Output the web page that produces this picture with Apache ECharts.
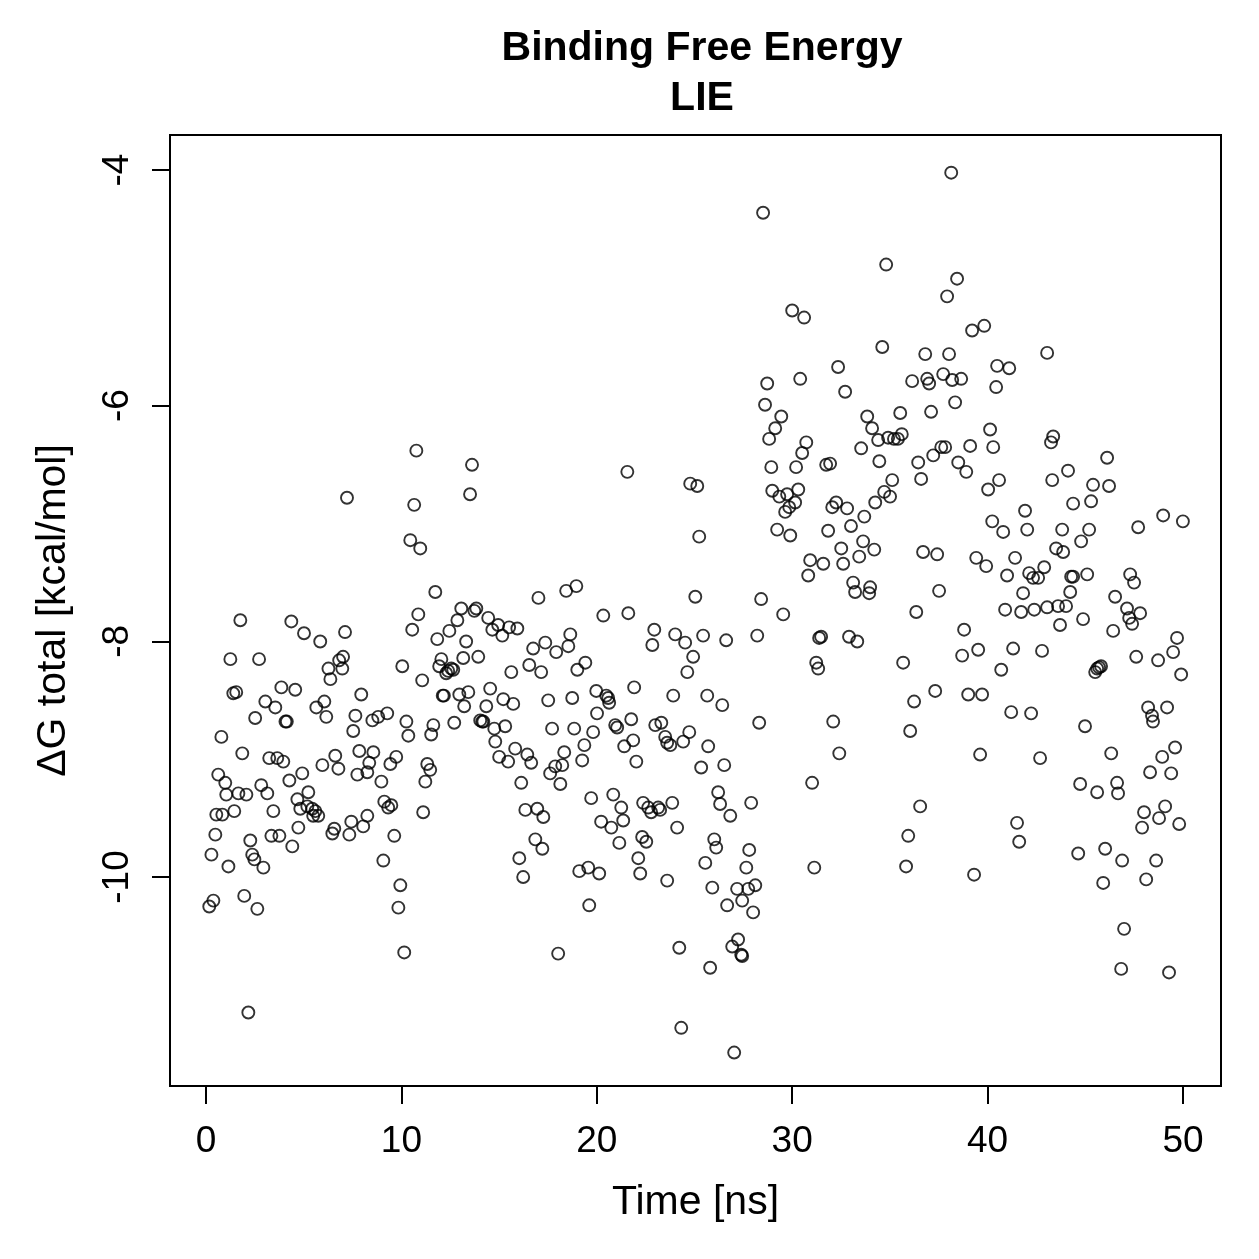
<!DOCTYPE html>
<html>
<head>
<meta charset="utf-8">
<script src="https://cdn.jsdelivr.net/npm/echarts@6/dist/echarts.min.js"></script>
<style>
  html, body { margin: 0; padding: 0; background: #fff; }
  #chart { width: 1259px; height: 1259px; }
</style>
</head>
<body>
<div id="chart"></div>
<script>
// LIE binding free energy, [time ns, dG kcal/mol]
const lie0to10 = [
  [0.15,-10.25],[0.26,-9.81],[0.36,-10.2],[0.46,-9.64],[0.51,-9.47],[0.61,-9.13],[0.77,-8.81],[0.82,-9.47],
  [0.97,-9.2],[1.02,-9.3],[1.13,-9.91],[1.23,-8.15],[1.38,-8.44],[1.43,-9.44],[1.53,-8.43],[1.64,-9.29],
  [1.74,-7.82],[1.84,-8.95],[1.94,-10.16],[2.05,-9.3],[2.15,-11.15],[2.25,-9.69],[2.35,-9.81],[2.46,-9.85],
  [2.5,-8.65],[2.61,-10.27],[2.7,-8.15],[2.81,-9.22],[2.92,-9.92],[3.02,-8.51],[3.12,-9.29],[3.22,-8.99],
  [3.33,-9.65],[3.43,-9.44],[3.53,-8.56],[3.63,-8.99],[3.74,-9.65],[3.84,-8.39],[3.94,-9.02],[4.05,-8.68],
  [4.12,-8.68],[4.25,-9.18],[4.35,-7.83],[4.4,-9.74],[4.55,-8.41],[4.66,-9.34],[4.71,-9.58],[4.81,-9.42],
  [4.91,-9.12],[5.0,-7.93],[5.17,-9.4],[5.22,-9.28],[5.42,-9.42],[5.47,-9.48],[5.58,-9.44],[5.63,-8.56],
  [5.73,-9.48],[5.83,-8.0],[5.94,-9.05],[6.04,-8.51],[6.14,-8.64],[6.25,-8.23],[6.35,-8.32],[6.45,-9.63],
  [6.55,-9.59],[6.6,-8.97],[6.76,-9.08],[6.8,-8.16],[6.96,-8.23],[7.0,-8.13],[7.1,-7.92],[7.2,-6.78],
  [7.32,-9.64],[7.42,-9.53],[7.52,-8.76],[7.63,-8.63],[7.73,-9.13],[7.83,-8.93],[7.93,-8.45],[8.03,-9.57],
  [8.24,-9.48],[8.24,-9.11],[8.34,-9.03],[8.5,-8.67],[8.55,-8.94],[8.8,-8.64],[8.96,-9.19],[9.06,-9.86],
  [9.11,-9.36],[9.26,-8.61],[9.31,-9.41],[9.42,-9.04],[9.47,-9.39],[9.62,-9.65],[9.72,-8.98],[9.83,-10.26],
  [9.93,-10.07]
];
const lie10to20 = [
  [10.03,-8.21],[10.13,-10.64],[10.24,-8.68],[10.34,-8.8],[10.44,-7.14],[10.54,-7.9],[10.64,-6.84],[10.75,-6.38],
  [10.85,-7.77],[10.95,-7.21],[11.05,-8.33],[11.1,-9.45],[11.21,-9.19],[11.31,-9.04],[11.46,-9.09],[11.51,-8.79],
  [11.62,-8.71],[11.72,-7.58],[11.82,-7.98],[11.92,-8.21],[12.03,-8.15],[12.1,-8.46],[12.16,-8.46],[12.28,-8.27],
  [12.38,-8.25],[12.44,-7.91],[12.54,-8.23],[12.64,-8.24],[12.69,-8.69],[12.85,-7.82],[12.95,-8.45],[13.05,-7.72],
  [13.15,-8.14],[13.2,-8.55],[13.3,-8.0],[13.41,-8.43],[13.5,-6.75],[13.6,-6.5],[13.72,-7.74],[13.82,-7.72],
  [13.92,-8.13],[14.02,-8.67],[14.12,-8.68],[14.18,-8.68],[14.33,-8.55],[14.43,-7.8],[14.53,-8.4],[14.64,-7.9],
  [14.74,-8.74],[14.79,-8.85],[14.94,-7.86],[14.99,-8.98],[15.15,-7.95],[15.2,-8.49],[15.3,-8.72],[15.45,-9.02],
  [15.5,-7.88],[15.61,-8.26],[15.71,-8.53],[15.81,-8.91],[15.92,-7.89],[16.02,-9.84],[16.12,-9.2],[16.22,-10.0],
  [16.33,-9.43],[16.43,-8.96],[16.53,-8.2],[16.63,-9.03],[16.73,-8.06],[16.84,-9.68],[16.94,-9.42],[17.0,-7.63],
  [17.14,-8.26],[17.2,-9.76],[17.25,-9.49],[17.35,-8.01],[17.5,-8.5],[17.6,-9.12],[17.7,-8.74],[17.86,-9.06],
  [17.91,-8.09],[18.01,-10.65],[18.12,-9.21],[18.22,-9.05],[18.32,-8.94],[18.42,-7.57],[18.53,-8.04],[18.63,-7.94],
  [18.73,-8.48],[18.83,-8.74],[18.94,-7.53],[18.99,-8.24],[19.09,-9.95],[19.24,-9.01],[19.35,-8.88],[19.4,-8.18],
  [19.55,-9.92],[19.6,-10.24],[19.7,-9.33],[19.8,-8.77],[19.96,-8.42]
];
const lie20to30 = [
  [20.0,-8.61],[20.11,-9.97],[20.21,-9.53],[20.32,-7.78],[20.47,-8.46],[20.57,-8.48],[20.62,-8.52],[20.73,-9.58],
  [20.83,-9.3],[20.93,-8.71],[21.03,-8.73],[21.14,-9.71],[21.24,-9.41],[21.34,-9.52],[21.39,-8.89],[21.55,-6.56],
  [21.6,-7.76],[21.75,-8.66],[21.85,-8.84],[21.9,-8.39],[22.01,-9.02],[22.11,-9.84],[22.21,-9.97],[22.31,-9.66],
  [22.36,-9.37],[22.52,-9.7],[22.62,-9.41],[22.77,-9.45],[22.83,-8.03],[22.93,-7.9],[22.98,-8.71],[23.13,-9.41],
  [23.23,-9.43],[23.29,-8.69],[23.49,-8.81],[23.59,-8.86],[23.59,-10.03],[23.75,-8.88],[23.85,-9.37],[23.9,-8.46],
  [24.0,-7.94],[24.1,-9.58],[24.21,-10.6],[24.31,-11.28],[24.41,-8.85],[24.51,-8.01],[24.62,-8.26],[24.72,-8.77],
  [24.77,-6.66],[24.92,-8.13],[25.03,-7.62],[25.13,-6.68],[25.23,-7.11],[25.33,-9.07],[25.43,-7.95],[25.54,-9.88],
  [25.64,-8.46],[25.69,-8.89],[25.79,-10.77],[25.9,-10.09],[26.0,-9.68],[26.1,-9.75],[26.2,-9.28],[26.3,-9.38],
  [26.41,-8.54],[26.51,-9.05],[26.61,-7.99],[26.66,-10.24],[26.82,-9.48],[26.92,-10.59],[27.02,-11.49],[27.17,-10.1],
  [27.22,-10.53],[27.38,-10.66],[27.43,-10.67],[27.43,-10.2],[27.64,-9.92],[27.74,-10.1],[27.79,-9.77],[27.89,-9.37],
  [27.99,-10.3],[28.1,-10.07],[28.2,-7.95],[28.3,-8.69],[28.4,-7.64],[28.5,-4.36],[28.6,-5.99],[28.71,-5.81],
  [28.81,-6.28],[28.92,-6.52],[28.97,-6.72],[29.12,-6.19],[29.22,-7.05],[29.33,-6.77],[29.43,-6.09],[29.53,-7.77],
  [29.63,-6.9],[29.73,-6.75],[29.84,-6.86],[29.89,-7.1],[29.99,-5.19]
];
const lie30to40 = [
  [30.14,-6.82],[30.19,-6.52],[30.3,-6.71],[30.4,-5.77],[30.5,-6.4],[30.6,-5.25],[30.71,-6.31],[30.81,-7.44],
  [30.91,-7.31],[31.01,-9.2],[31.12,-9.92],[31.22,-8.18],[31.32,-8.23],[31.37,-7.97],[31.47,-7.96],[31.58,-7.34],
  [31.73,-6.5],[31.83,-7.06],[31.93,-6.49],[32.04,-6.86],[32.09,-8.68],[32.24,-6.82],[32.34,-5.67],[32.4,-8.95],
  [32.5,-7.21],[32.6,-7.34],[32.7,-5.88],[32.8,-6.87],[32.9,-7.96],[33.0,-7.02],[33.11,-7.5],[33.21,-7.58],
  [33.32,-8.0],[33.42,-7.28],[33.52,-6.36],[33.62,-7.15],[33.68,-6.94],[33.83,-6.09],[33.93,-7.59],[33.98,-7.54],
  [34.08,-6.19],[34.19,-7.22],[34.24,-6.82],[34.39,-6.29],[34.45,-6.47],[34.6,-5.5],[34.7,-6.73],[34.8,-4.8],
  [34.9,-6.27],[35.0,-6.77],[35.11,-6.63],[35.2,-6.28],[35.4,-6.28],[35.52,-6.06],[35.6,-6.24],[35.67,-8.18],
  [35.82,-9.91],[35.93,-9.65],[36.03,-8.76],[36.13,-5.79],[36.23,-8.51],[36.34,-7.75],[36.44,-6.48],[36.54,-9.4],
  [36.59,-6.62],[36.69,-7.24],[36.8,-5.56],[36.9,-5.77],[37.0,-5.81],[37.1,-6.05],[37.21,-6.42],[37.31,-8.42],
  [37.41,-7.26],[37.51,-7.57],[37.62,-6.35],[37.72,-5.73],[37.82,-6.35],[37.92,-5.07],[38.02,-5.56],[38.13,-4.02],
  [38.18,-5.78],[38.33,-5.97],[38.43,-4.92],[38.49,-6.48],[38.64,-5.77],[38.69,-8.12],[38.79,-7.9],[38.9,-6.56],
  [39.0,-8.45],[39.1,-6.34],[39.2,-5.36],[39.3,-9.98],[39.41,-7.29],[39.51,-8.07],[39.61,-8.96],[39.71,-8.45],
  [39.82,-5.32],[39.92,-7.36]
];
const lie40to50 = [
  [40.02,-6.71],[40.12,-6.2],[40.23,-6.98],[40.28,-6.35],[40.43,-5.84],[40.48,-5.66],[40.58,-6.63],[40.69,-8.24],
  [40.79,-7.07],[40.89,-7.73],[40.99,-7.44],[41.1,-5.68],[41.2,-8.6],[41.3,-8.06],[41.4,-7.29],[41.5,-9.54],
  [41.61,-9.7],[41.71,-7.75],[41.81,-7.59],[41.91,-6.89],[42.02,-7.05],[42.12,-7.42],[42.22,-8.61],[42.32,-7.46],
  [42.38,-7.73],[42.58,-7.46],[42.68,-8.99],[42.78,-8.08],[42.89,-7.37],[43.04,-5.55],[43.04,-7.71],[43.24,-6.31],
  [43.3,-6.63],[43.35,-6.26],[43.5,-7.21],[43.6,-7.7],[43.7,-7.86],[43.81,-7.05],[43.86,-7.24],[44.01,-7.7],
  [44.11,-6.55],[44.22,-7.58],[44.27,-7.45],[44.37,-7.45],[44.37,-6.83],[44.63,-9.8],[44.73,-9.21],[44.78,-7.15],
  [44.88,-7.81],[44.98,-8.72],[45.09,-7.43],[45.19,-7.05],[45.29,-6.81],[45.39,-6.67],[45.5,-8.26],[45.6,-8.23],
  [45.6,-9.28],[45.7,-8.22],[45.8,-8.21],[45.91,-10.05],[46.01,-9.76],[46.11,-6.44],[46.21,-6.68],[46.32,-8.95],
  [46.42,-7.91],[46.52,-7.62],[46.62,-9.2],[46.67,-9.29],[46.83,-10.78],[46.88,-9.86],[46.98,-10.44],[47.13,-7.72],
  [47.24,-7.8],[47.29,-7.43],[47.39,-7.85],[47.49,-7.5],[47.6,-8.13],[47.7,-7.03],[47.8,-7.76],[47.9,-9.58],
  [48.0,-9.45],[48.11,-10.02],[48.21,-8.56],[48.31,-9.11],[48.41,-8.63],[48.46,-8.68],[48.62,-9.86],[48.72,-8.16],
  [48.77,-9.5],[48.93,-8.98],[48.98,-6.93],[49.08,-9.4],[49.18,-8.56],[49.28,-10.81],[49.39,-9.12],[49.49,-8.09],
  [49.59,-8.9],[49.69,-7.97],[49.8,-9.55],[49.9,-8.28],[49.99,-6.98]
];

const xTicks = [0, 10, 20, 30, 40, 50];
const yTicks = [-10, -8, -6, -4];

const FONT = "'Liberation Sans', Arial, sans-serif";

const chart = echarts.init(document.getElementById('chart'), null, { renderer: 'canvas' });

const allPoints = [].concat(lie0to10, lie10to20, lie20to30, lie30to40, lie40to50);

// R style: data box in grid 0, tick axes detached in grids 1 and 2
const option = {
    backgroundColor: '#fff',
    animation: false,
    title: {
        text: 'Binding Free Energy\nLIE',
        left: 697,
        top: 19,
        textAlign: 'center',
        textStyle: {
            fontFamily: FONT,
            fontWeight: 'bold',
            fontSize: 41,
            lineHeight: 50,
            color: '#000'
        }
    },
    grid: [
        { left: 170, right: 38, top: 135, bottom: 173, show: true, borderColor: '#000', borderWidth: 2, backgroundColor: 'transparent' },
        { left: 206, right: 76, top: 135, bottom: 173 },
        { left: 170, right: 38, top: 170, bottom: 382 }
    ],
    xAxis: [
        {
            gridIndex: 0, type: 'value', min: -1.86, max: 51.94,
            axisLine: { show: false }, axisTick: { show: false },
            axisLabel: { show: false }, splitLine: { show: false },
            name: 'Time [ns]', nameLocation: 'middle', nameGap: 96,
            nameTextStyle: { fontFamily: FONT, fontSize: 41, color: '#000' }
        },
        {
            gridIndex: 1, type: 'value', min: xTicks[0], max: xTicks[xTicks.length - 1], interval: 10,
            offset: 19,
            axisLine: { show: true, lineStyle: { color: '#000', width: 2 } },
            axisTick: { show: true, length: 18, lineStyle: { color: '#000', width: 2 } },
            axisLabel: { show: true, margin: 18, fontFamily: FONT, fontSize: 37, color: '#000',
                formatter: v => xTicks.includes(v) ? String(v) : '' },
            splitLine: { show: false }
        },
        { gridIndex: 2, type: 'value', show: false }
    ],
    yAxis: [
        {
            gridIndex: 0, type: 'value', min: -11.774, max: -3.70,
            axisLine: { show: false }, axisTick: { show: false },
            axisLabel: { show: false }, splitLine: { show: false },
            name: 'ΔG total [kcal/mol]', nameLocation: 'middle', nameRotate: 90, nameGap: 96,
            nameTextStyle: { fontFamily: FONT, fontSize: 41, color: '#000' }
        },
        { gridIndex: 1, type: 'value', show: false },
        {
            gridIndex: 2, type: 'value', min: yTicks[0], max: yTicks[yTicks.length - 1], interval: 2,
            offset: 19,
            axisLine: { show: true, lineStyle: { color: '#000', width: 2 } },
            axisTick: { show: true, length: 18, lineStyle: { color: '#000', width: 2 } },
            axisLabel: { show: true, rotate: 90, margin: 15, fontFamily: FONT, fontSize: 37, color: '#000',
                formatter: v => yTicks.includes(v) ? String(v) : '' },
            splitLine: { show: false }
        }
    ],
    series: [{
        name: 'LIE',
        type: 'scatter',
        xAxisIndex: 0,
        yAxisIndex: 0,
        data: allPoints,
        symbol: 'circle',
        symbolSize: 12,
        itemStyle: {
            color: 'rgba(0,0,0,0)',
            borderColor: '#000',
            borderWidth: 1.9
        }
    }]
};

chart.setOption(option);
</script>
</body>
</html>
